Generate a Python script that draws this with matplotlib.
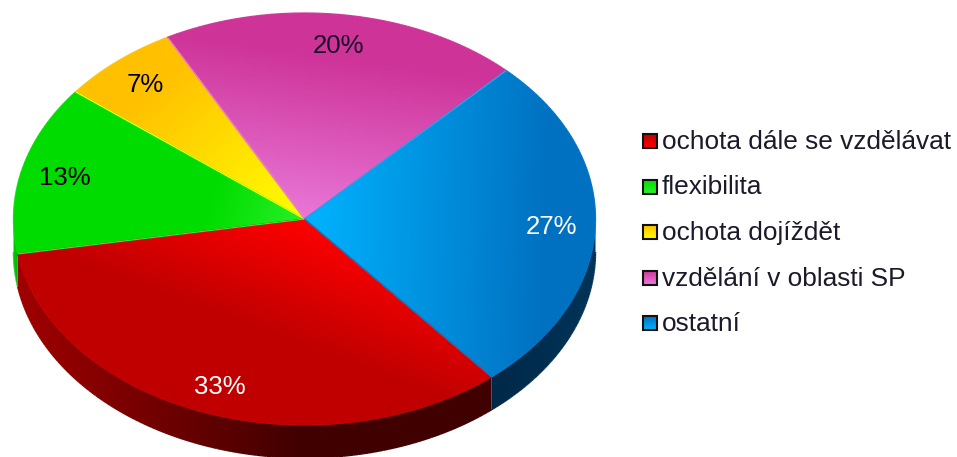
import numpy as np
import matplotlib
matplotlib.use("Agg")
import matplotlib.pyplot as plt
from matplotlib.path import Path
from matplotlib.patches import PathPatch, Rectangle
from matplotlib.collections import LineCollection
from matplotlib.colors import to_rgb

categories = ["ochota dále se vzdělávat", "flexibilita", "ochota dojíždět", "vzdělání v oblasti SP", "ostatní"]
values = [33.4, 13.3, 6.6, 20.0, 26.7]
label_colors = ["white", "black", "black", "#1a0a2a", "white"]
inner_colors = ["#FF0000", "#28F028", "#FFFF00", "#E878D8", "#00B4FF"]
outer_colors = ["#C00000", "#00DC00", "#FFC000", "#CE3398", "#0070C0"]
gradient_len = [118, 95, 200, 165, 245]
side_left = ["#A00000", "#00C800", "#A08000", "#802060", "#002848"]
side_right = ["#400000", "#00B800", "#806000", "#601848", "#003458"]
side_reach = [0.6, 1.0, 1.0, 1.0, 1.0]

W, H = 957, 457
CX, CY, RX, RY, DEPTH = 304.5, 219.0, 291.0, 206.0, 33.0
START = -50.0

plt.rcParams["font.family"] = "Liberation Sans"
fig = plt.figure(figsize=(W / 100, H / 100), dpi=100)
ax = fig.add_axes([0, 0, 1, 1])
ax.set_xlim(0, W)
ax.set_ylim(H, 0)
ax.axis("off")


def pt(a):
    a = np.radians(a)
    return CX + RX * np.cos(a), CY - RY * np.sin(a)


# slice angles, clockwise from START
sweeps = np.array(values) / sum(values) * 360
ends = START - np.cumsum(sweeps)
starts = np.r_[START, ends[:-1]]


def lerp_color(c0, c1, t):
    t = np.asarray(t)
    return np.asarray(c0) * (1 - t[..., None]) + np.asarray(c1) * t[..., None]


yy, xx = np.mgrid[0:H, 0:W]

# side walls first
for a0, a1, cl, cr, reach in zip(starts, ends, side_left, side_right, side_reach):
    lo, hi = min(a0, a1), max(a0, a1)
    for shift in (0, -360, 360):
        l, h = max(lo + shift, -180), min(hi + shift, 0)
        if h <= l:
            continue
        th = np.linspace(l, h, 120)
        x, y = pt(th)
        verts = np.r_[np.c_[x, y], np.c_[x[::-1], y[::-1] + DEPTH]]
        patch = PathPatch(Path(np.r_[verts, verts[:1]], closed=True), fc="none", ec="none")
        ax.add_patch(patch)
        xmin, xmax = x.min(), x.max()
        span = max((xmax - xmin) * reach, 1)

        def wall(px):
            return lerp_color(to_rgb(cl), to_rgb(cr), np.clip((px - xmin) / span, 0, 1))

        im = ax.imshow(wall(xx + 0.5), extent=(0, W, H, 0), aspect="auto", zorder=1, interpolation="nearest")
        im.set_clip_path(patch)
        seg = np.c_[x, y + DEPTH]
        segs = np.stack([seg[:-1], seg[1:]], axis=1)
        ax.add_collection(LineCollection(segs, colors=wall(x)[:-1], linewidths=1.0, zorder=1.2))

# top slices
for a0, a1, c0, c1, L in zip(starts, ends, inner_colors, outer_colors, gradient_len):
    mid = np.radians((a0 + a1) / 2)
    ux, uy = np.cos(mid), -np.sin(mid)

    def shade(px, py):
        t = np.clip(((px - CX) * ux + (py - CY) * uy) / L, 0, 1)
        return lerp_color(to_rgb(c0), to_rgb(c1), t)

    th = np.linspace(a0, a1, 200)
    x, y = pt(th)
    verts = np.r_[[[CX, CY]], np.c_[x, y], [[CX, CY]]]
    patch = PathPatch(Path(verts, closed=True), fc="none", ec="none")
    ax.add_patch(patch)
    im = ax.imshow(shade(xx + 0.5, yy + 0.5), extent=(0, W, H, 0), aspect="auto", zorder=2, interpolation="nearest")
    im.set_clip_path(patch)
    cols = shade(verts[:, 0], verts[:, 1])
    segs = np.stack([verts[:-1], verts[1:]], axis=1)
    ax.add_collection(LineCollection(segs, colors=cols[:-1], linewidths=0.9, zorder=2.5))

# percentage labels
for v, a0, a1, col in zip(values, starts, ends, label_colors):
    x, y = pt((a0 + a1) / 2)
    lx = CX + (x - CX) * 0.85
    ly = CY + (y - CY) * 0.86 + 2
    ax.text(lx, ly, f"{v:.0f}%", color=col, fontsize=18.5, ha="center", va="center", zorder=5)

# legend
for i, (name, c0, c1) in enumerate(zip(categories, inner_colors, outer_colors)):
    y = 141 + i * 45.5
    g = np.linspace(0, 1, 32)[:, None]
    img = lerp_color(to_rgb(c1), to_rgb(c0), g)
    ax.imshow(img, extent=(643, 657, y + 7, y - 7), aspect="auto", zorder=3)
    ax.add_patch(Rectangle((643, y - 7), 14, 14, fc="none", ec="#111111", lw=1.5, zorder=4))
    ax.text(661.5, y + 1, name, color="#1a1a2a", fontsize=18.9, ha="left", va="center", zorder=5)

ax.set_xlim(0, W)
ax.set_ylim(H, 0)
fig.savefig("out.png", dpi=100, facecolor="white")
